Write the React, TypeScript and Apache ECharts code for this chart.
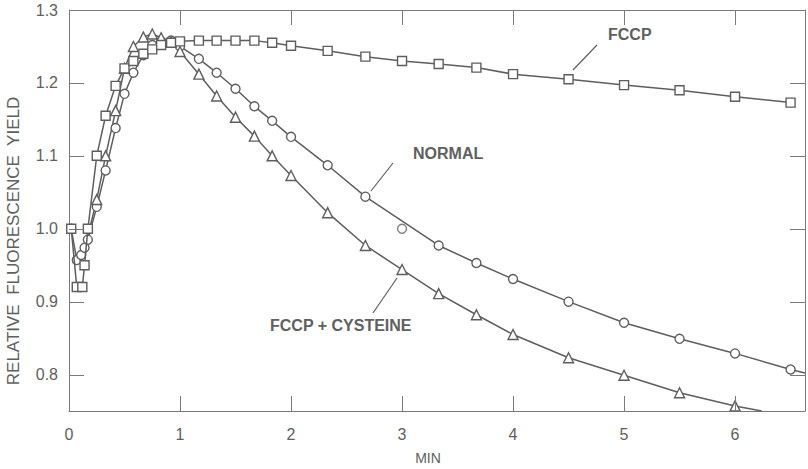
import React, { useEffect, useRef } from "react";
import * as echarts from "echarts";

// FCCP (squares)
const fccpTimes = [0.02, 0.07, 0.12, 0.14, 0.17, 0.25, 0.33, 0.42, 0.5, 0.58, 0.67, 0.75, 0.83, 0.92, 1.0, 1.17, 1.33, 1.5, 1.67, 1.83, 2.0, 2.33, 2.67, 3.0, 3.33, 3.67, 4.0, 4.5, 5.0, 5.5, 6.0, 6.5];
const fccpValues = [1.0, 0.92, 0.92, 0.95, 1.0, 1.1, 1.155, 1.196, 1.22, 1.23, 1.24, 1.246, 1.252, 1.255, 1.257, 1.258, 1.258, 1.258, 1.258, 1.255, 1.251, 1.244, 1.236, 1.23, 1.226, 1.221, 1.212, 1.205, 1.197, 1.19, 1.181, 1.173];

// NORMAL (circles)
const normalTimes = [0.02, 0.07, 0.11, 0.14, 0.17, 0.25, 0.33, 0.42, 0.5, 0.58, 0.67, 0.75, 0.83, 0.92, 1.0, 1.17, 1.33, 1.5, 1.67, 1.83, 2.0, 2.33, 2.67, 3.33, 3.67, 4.0, 4.5, 5.0, 5.5, 6.0, 6.5];
const normalValues = [1.0, 0.957, 0.964, 0.974, 0.985, 1.03, 1.08, 1.138, 1.185, 1.214, 1.238, 1.252, 1.257, 1.258, 1.25, 1.233, 1.214, 1.192, 1.168, 1.148, 1.126, 1.087, 1.044, 0.977, 0.953, 0.931, 0.9, 0.871, 0.849, 0.829, 0.807];
const normalTail = [6.63, 0.802];
const normalOutlier = [3.0, 1.0];

// FCCP + CYSTEINE (triangles)
const cysTimes = [0.25, 0.33, 0.42, 0.5, 0.58, 0.67, 0.75, 0.83, 0.92, 1.0, 1.17, 1.33, 1.5, 1.67, 1.83, 2.0, 2.33, 2.67, 3.0, 3.33, 3.67, 4.0, 4.5, 5.0, 5.5, 6.0];
const cysValues = [1.04, 1.1, 1.162, 1.22, 1.25, 1.263, 1.267, 1.262, 1.256, 1.243, 1.212, 1.182, 1.153, 1.127, 1.1, 1.073, 1.022, 0.977, 0.944, 0.911, 0.882, 0.855, 0.823, 0.799, 0.775, 0.757];
const cysHead = [0.17, 0.99];
const cysTail = [6.24, 0.75];

const xTickValues = [1, 2, 3, 4, 5, 6];
const yTickValues = [0.8, 0.9, 1.0, 1.1, 1.2];
const X_MIN = 0;
const X_MAX = 6.63;
const X_INTERVAL = 1;
const Y_MIN = 0.75;
const Y_MAX = 1.3;
const Y_INTERVAL = 0.05;

const W = 808;
const H = 469;
const GRID = { left: 69, right: 3, top: 10, bottom: 58 };

export default function App() {
  const ref = useRef<HTMLDivElement>(null);
  useEffect(() => {
    const chart = echarts.init(ref.current!, null, { renderer: "svg" });
    const gray = "#5e5e5e";
    const axisGray = "#7a7a7a";
    const textColor = "#606060";
    const font = "Liberation Sans";
    const TICK = 15;
    const pair = (ts: number[], vs: number[]) => ts.map((t, i) => [t, vs[i]]);
    const hidden = (p: number[]) => ({ value: p, symbol: "none" });

    const axisLine = { show: true, onZero: false, lineStyle: { color: axisGray, width: 1 } };
    const markStyle = { color: "#fff", borderColor: gray, borderWidth: 1.4 };
    const lineStyle = { color: gray, width: 1.5 };

    // linear mapping identical to the value axes (same extents, same grid box) for the frame ticks
    const plotL = GRID.left;
    const plotR = W - GRID.right;
    const plotT = GRID.top;
    const plotB = H - GRID.bottom;
    const sx = (v: number) => plotL + ((v - X_MIN) / (X_MAX - X_MIN)) * (plotR - plotL);
    const sy = (v: number) => plotB - ((v - Y_MIN) / (Y_MAX - Y_MIN)) * (plotB - plotT);
    const bar = (x: number, y: number, width: number, height: number) => ({
      type: "rect",
      shape: { x, y, width, height },
      style: { fill: axisGray },
      silent: true,
      z: 10,
    });
    const frame: any[] = [bar(plotL, plotT, plotR - plotL, 1)];
    xTickValues.forEach((v) => {
      const x = Math.round(sx(v));
      frame.push(bar(x, plotB - TICK, 1, TICK));
      frame.push(bar(x, plotT, 1, TICK));
    });
    yTickValues.forEach((v) => {
      const y = Math.round(sy(v));
      frame.push(bar(plotL, y, TICK, 1));
      frame.push(bar(plotR - TICK, y, TICK, 1));
    });

    const isTenth = (v: number) => Math.abs(v * 10 - Math.round(v * 10)) < 1e-6;

    chart.setOption({
      animation: false,
      backgroundColor: "#ffffff",
      grid: GRID,
      xAxis: {
        type: "value",
        min: X_MIN,
        max: X_MAX,
        interval: X_INTERVAL,
        position: "bottom",
        splitLine: { show: false },
        axisLine,
        axisTick: { show: false },
        axisLabel: {
          showMaxLabel: false,
          margin: 15,
          fontSize: 16,
          color: textColor,
          fontFamily: font,
          formatter: (v: number) => (Math.abs(v - Math.round(v)) < 1e-6 ? String(Math.round(v)) : ""),
        },
      },
      yAxis: [
        {
          type: "value",
          min: Y_MIN,
          max: Y_MAX,
          interval: Y_INTERVAL,
          position: "left",
          splitLine: { show: false },
          axisLine,
          axisTick: { show: false },
          axisLabel: {
            margin: 11,
            fontSize: 16,
            color: textColor,
            fontFamily: font,
            formatter: (v: number) => (isTenth(v) ? v.toFixed(1) : ""),
          },
        },
        {
          type: "value",
          min: Y_MIN,
          max: Y_MAX,
          interval: Y_INTERVAL,
          position: "right",
          splitLine: { show: false },
          axisLine,
          axisTick: { show: false },
          axisLabel: { show: false },
        },
      ],
      series: [
        {
          name: "FCCP",
          type: "line",
          data: pair(fccpTimes, fccpValues),
          symbol: "rect",
          symbolSize: 9,
          showAllSymbol: true,
          itemStyle: markStyle,
          lineStyle,
          z: 3,
        },
        {
          name: "NORMAL",
          type: "line",
          data: [...pair(normalTimes, normalValues), hidden(normalTail)],
          symbol: "circle",
          symbolSize: 9,
          showAllSymbol: true,
          itemStyle: markStyle,
          lineStyle,
          z: 2,
        },
        {
          name: "NORMAL outlier",
          type: "scatter",
          data: [normalOutlier],
          symbol: "circle",
          symbolSize: 9,
          itemStyle: markStyle,
          z: 2,
        },
        {
          name: "FCCP + CYSTEINE",
          type: "line",
          data: [hidden(cysHead), ...pair(cysTimes, cysValues), hidden(cysTail)],
          symbol: "triangle",
          symbolSize: 10,
          showAllSymbol: true,
          itemStyle: markStyle,
          lineStyle,
          z: 2,
        },
      ],
      graphic: [
        ...frame,
        {
          type: "text",
          x: 13,
          y: 241,
          rotation: Math.PI / 2,
          style: {
            text: "RELATIVE  FLUORESCENCE  YIELD",
            fill: textColor,
            font: `17px "${font}"`,
            textAlign: "center",
            textVerticalAlign: "middle",
          },
        },
        {
          type: "text",
          x: 428,
          y: 458,
          style: { text: "MIN", fill: textColor, font: `14px "${font}"`, textAlign: "center", textVerticalAlign: "middle" },
        },
        {
          type: "text",
          x: 608,
          y: 34,
          style: { text: "FCCP", fill: textColor, font: `bold 16px "${font}"`, textAlign: "left", textVerticalAlign: "middle" },
        },
        { type: "line", shape: { x1: 597, y1: 45, x2: 573, y2: 70 }, style: { stroke: gray, lineWidth: 1.2 } },
        {
          type: "text",
          x: 413,
          y: 153,
          style: { text: "NORMAL", fill: textColor, font: `bold 16px "${font}"`, textAlign: "left", textVerticalAlign: "middle" },
        },
        { type: "line", shape: { x1: 393, y1: 163, x2: 371, y2: 191 }, style: { stroke: gray, lineWidth: 1.2 } },
        {
          type: "text",
          x: 270,
          y: 325,
          style: { text: "FCCP + CYSTEINE", fill: textColor, font: `bold 16px "${font}"`, textAlign: "left", textVerticalAlign: "middle" },
        },
        { type: "line", shape: { x1: 373, y1: 313, x2: 397, y2: 278 }, style: { stroke: gray, lineWidth: 1.2 } },
      ],
    });

    return () => chart.dispose();
  }, []);
  return <div ref={ref} style={{ position: "fixed", left: 0, top: 0, width: W, height: H }} />;
}
